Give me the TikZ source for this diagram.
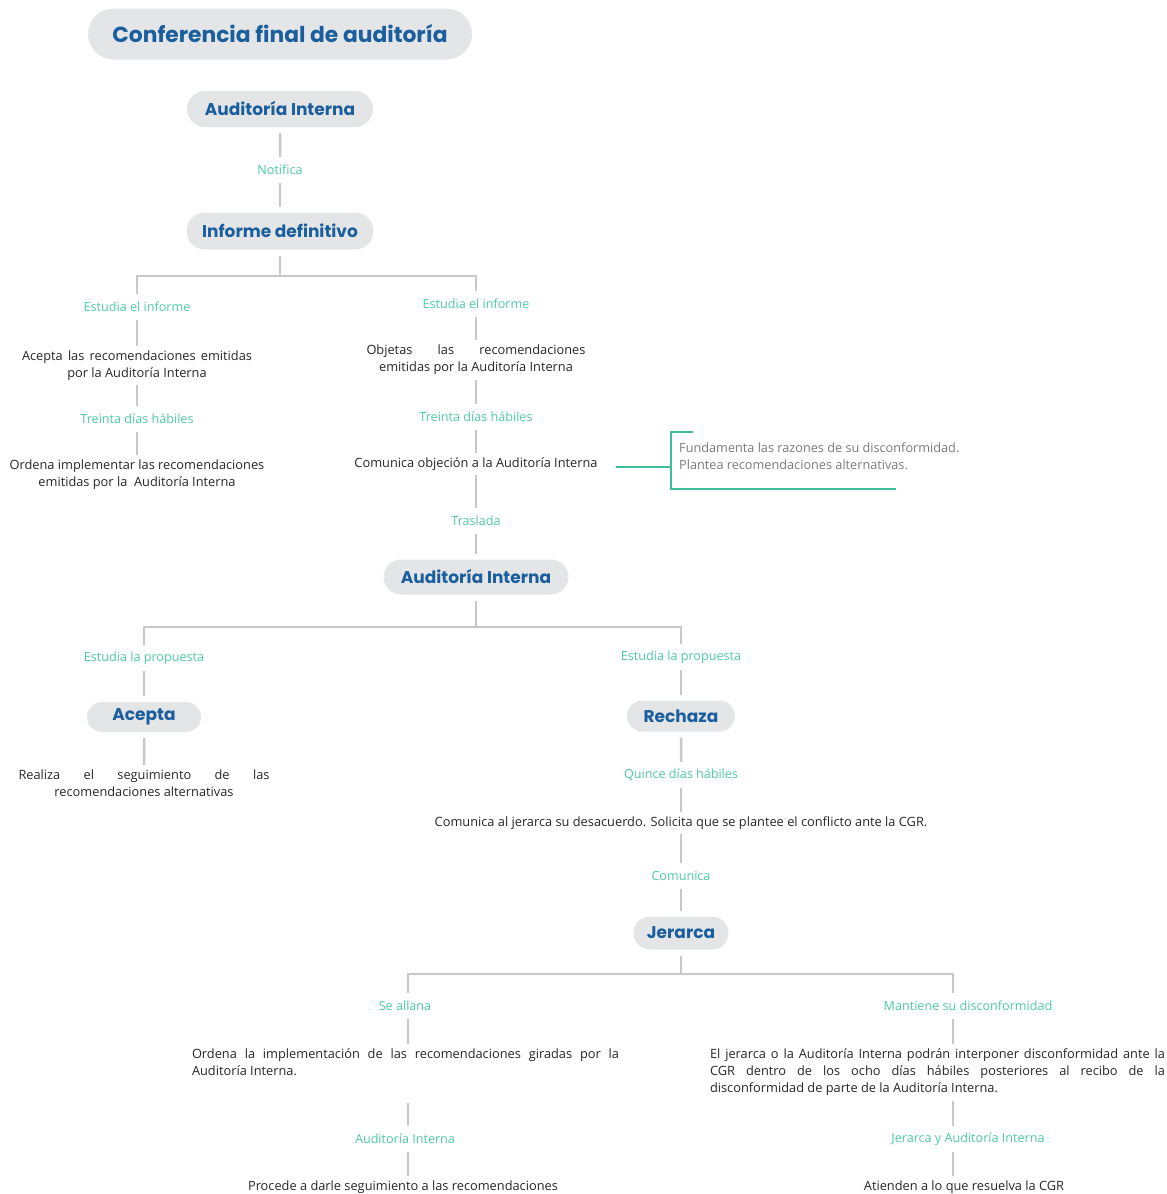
\documentclass[tikz,border=0pt]{standalone}
\usepackage{fontspec}
\setmainfont{Open Sans}
\newfontfamily\headfont{Poppins}
\usetikzlibrary{shapes.misc}
\definecolor{pillgray}{HTML}{E4E5E7}
\definecolor{hblue}{HTML}{1B5E9E}
\definecolor{lteal}{HTML}{4DC9A6}
\definecolor{cgray}{HTML}{C8C8C8}
\definecolor{btxt}{HTML}{262626}
\definecolor{ftxt}{HTML}{7A7A7A}
\definecolor{brteal}{HTML}{3DBE9C}
\newcommand\jline[2]{\makebox[#1][s]{\spaceskip=0.25em plus 1fil minus 0.06em\relax #2}}
\begin{document}
\begin{tikzpicture}[x=1pt,y=-1pt,
 pill/.style={rounded rectangle, fill=pillgray, text=hblue, font=\headfont\bfseries\fontsize{17}{20}\selectfont, inner sep=0pt, outer sep=6pt},
 lbl/.style={text=lteal, font=\fontsize{12.6}{15}\selectfont, inner sep=0pt, minimum height=26pt},
 txt/.style={text=btxt, font=\fontsize{12.8}{17}\selectfont, inner sep=0pt, outer sep=5pt, align=center},
 conn/.style={draw=cgray, line width=2.5pt},
 br/.style={draw=brteal, line width=2.5pt}]
\useasboundingbox (0,0) rectangle (1167,1194);

% title
\node[pill, minimum width=384pt, minimum height=51pt, font=\headfont\bfseries\fontsize{21.8}{25}\selectfont] (title) at (280,34) {Conferencia final de auditoría};

% top chain
\node[pill, minimum width=186pt, minimum height=36pt] (ai1) at (280,109) {Auditoría Interna};
\node[lbl] (not) at (280,170) {Notifica};
\node[pill, minimum width=187pt, minimum height=37pt] (inf) at (280,231) {Informe definitivo};
\coordinate (j1) at (280,276);
\draw[conn] (ai1) -- (not);
\draw[conn] (not) -- (inf);
\draw[conn] (inf) -- (j1);

% left branch 1
\node[lbl] (le1) at (137,307) {Estudia el informe};
\node[txt] (acep) at (137,365.5) {\jline{230pt}{Acepta las recomendaciones emitidas}\\por la Auditoría Interna};
\node[lbl] (lt1) at (137,419) {Treinta días hábiles};
\node[txt] (ord) at (137,474.5) {Ordena implementar las recomendaciones\\emitidas por la\ \ Auditoría Interna};
\draw[conn] (j1) -| (le1.north);
\draw[conn] (le1) -- (acep);
\draw[conn] (acep) -- (lt1);
\draw[conn] (lt1) -- (ord);

% right branch 1
\node[lbl] (re1) at (476,304) {Estudia el informe};
\node[txt] (obj) at (476,360) {\jline{219pt}{Objetas las recomendaciones}\\emitidas por la Auditoría Interna};
\node[lbl] (rt1) at (476,417) {Treinta días hábiles};
\node[txt] (com) at (476,464) {Comunica objeción a la Auditoría Interna};
\node[lbl] (tras) at (476,521) {Traslada};
\node[pill, minimum width=185pt, minimum height=35pt] (ai2) at (476,577) {Auditoría Interna};
\draw[conn] (j1) -| (re1.north);
\draw[conn] (re1) -- (obj);
\draw[conn] (obj) -- (rt1);
\draw[conn] (rt1) -- (com);
\draw[conn] (com) -- (tras);
\draw[conn] (tras) -- (ai2);

% bracket note
\node[anchor=west, text=ftxt, font=\fontsize{12.7}{17}\selectfont, align=left, inner sep=0pt] (fund) at (679,456) {Fundamenta las razones de su disconformidad.\\Plantea recomendaciones alternativas.};
\coordinate (bk) at (671,467);
\draw[br] ([xshift=13pt]com.east |- bk) -- (bk);
\draw[br] (693,432) -| (671,489) -- (896,489);

% second split
\coordinate (j2) at (476,627);
\draw[conn] (ai2) -- (j2);
\node[lbl] (lp1) at (144,658) {Estudia la propuesta};
\node[pill, minimum width=114pt, minimum height=30pt] (acp) at (144,717) {Acepta};
\node[txt] (real) at (144,783.5) {\jline{251pt}{Realiza el seguimiento de las}\\recomendaciones alternativas};
\draw[conn] (j2) -| (lp1.north);
\draw[conn] (lp1) -- (acp);
\draw[conn] (acp) -- (real);

\node[lbl] (rp1) at (681,657) {Estudia la propuesta};
\node[pill, minimum width=108pt, minimum height=31pt] (rech) at (681,716) {Rechaza};
\node[lbl] (quin) at (681,775) {Quince días hábiles};
\node[txt] (comj) at (681,823) {Comunica al jerarca su desacuerdo. Solicita que se plantee el conflicto ante la CGR.};
\node[lbl] (comu) at (681,876) {Comunica};
\node[pill, minimum width=95pt, minimum height=33pt] (jer) at (681,933) {Jerarca};
\draw[conn] (j2) -| (rp1.north);
\draw[conn] (rp1) -- (rech);
\draw[conn] (rech) -- (quin);
\draw[conn] (quin) -- (comj);
\draw[conn] (comj) -- (comu);
\draw[conn] (comu) -- (jer);

% third split
\coordinate (j3) at (681,974);
\coordinate (cl) at (408,974);
\coordinate (cr) at (953,974);

\node[lbl] (sal) at (405,1006) {Se allana};
\node[txt, anchor=north west, align=left] (ordi) at (187,1044) {\jline{427pt}{Ordena la implementación de las recomendaciones giradas por la}\\Auditoría Interna.\\\strut};
\node[lbl] (aiL) at (405,1139) {Auditoría Interna};
\node[txt] (proc) at (403,1187) {Procede a darle seguimiento a las recomendaciones};

\node[lbl] (man) at (968,1006) {Mantiene su disconformidad};
\node[txt, anchor=north west, align=left] (elj) at (705,1044) {\jline{455pt}{El jerarca o la Auditoría Interna podrán interponer disconformidad ante la}\\\jline{455pt}{CGR dentro de los ocho días hábiles posteriores al recibo de la}\\disconformidad de parte de la Auditoría Interna.};
\node[lbl] (jya) at (968,1139) {Jerarca y Auditoría Interna};
\node[txt] (ati) at (964,1187) {Atienden a lo que resuelva la CGR};

\draw[conn] (jer) -- (j3);
\draw[conn] (cl |- sal.north) |- (cr) -- (cr |- man.north);
\draw[conn] (sal.south -| cl) -- (ordi.north -| cl);
\draw[conn] (ordi.south -| cl) -- (aiL.north -| cl);
\draw[conn] (aiL.south -| cl) -- (proc.north -| cl);
\draw[conn] (man.south -| cr) -- (elj.north -| cr);
\draw[conn] (elj.south -| cr) -- (jya.north -| cr);
\draw[conn] (jya.south -| cr) -- (ati.north -| cr);
\end{tikzpicture}
\end{document}
